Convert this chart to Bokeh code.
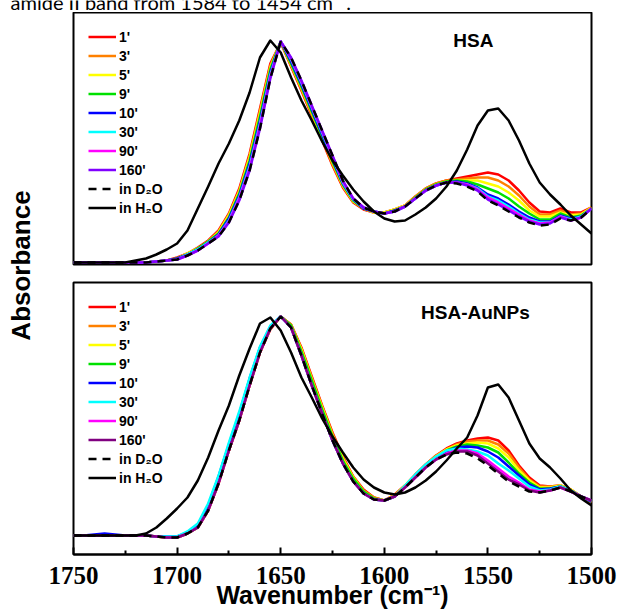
from math import pi
from bokeh.plotting import figure
from bokeh.models import Range1d, Legend, LegendItem, Label, FixedTicker
from bokeh.layouts import column, row
from bokeh.embed import file_html
from bokeh.resources import INLINE

# ---------------- data ----------------
wavenumber = [1750, 1745, 1740, 1735, 1730, 1725, 1720, 1715, 1710, 1705,
              1700, 1695, 1690, 1685, 1680, 1675, 1670, 1665, 1660, 1655,
              1650, 1645, 1640, 1635, 1630, 1625, 1620, 1615, 1610, 1605,
              1600, 1595, 1590, 1585, 1580, 1575, 1570, 1565, 1560, 1555,
              1550, 1545, 1540, 1535, 1530, 1525, 1520, 1515, 1510, 1505, 1500]

series_labels = ["1'", "3'", "5'", "9'", "10'", "30'", "90'", "160'", "in D\u2082O", "in H\u2082O"]

# HSA (upper panel), absorbance in arbitrary units
hsa_1 = [0, 0, 0, 0, 0, 0, 0, 0,
         1, 2, 5, 9, 15, 22, 32, 49, 74, 109, 154, 199, 220, 196, 172, 147, 122, 97, 75, 60, 53, 50, 50, 53,
         57, 66, 74, 79, 82, 84, 86, 88, 90, 88, 82, 72, 60, 51, 50, 54, 50, 50, 55]
hsa_3 = [0, 0, 0, 0, 0, 0, 0, 0,
         1, 2, 4, 9, 14, 21, 31, 48, 72, 107, 152, 197, 220, 197, 173, 148, 123, 98, 76, 61, 54, 50, 50, 53,
         57, 66, 74, 79, 82, 83, 84, 85, 85, 82, 76, 67, 56, 48, 48, 52, 48, 49, 55]
hsa_5 = [0, 0, 0, 0, 0, 0, 0, 0,
         1, 2, 4, 9, 14, 21, 30, 47, 71, 105, 149, 195, 221, 198, 175, 150, 125, 100, 77, 61, 54, 50, 50, 53,
         57, 65, 73, 78, 81, 82, 82, 82, 79, 76, 70, 62, 52, 46, 46, 50, 47, 48, 55]
hsa_9 = [0, 0, 0, 0, 0, 0, 0, 0,
         1, 2, 4, 8, 14, 21, 29, 45, 69, 102, 146, 193, 221, 199, 176, 151, 126, 101, 78, 62, 54, 51, 49, 52,
         56, 65, 73, 78, 81, 82, 81, 78, 74, 70, 64, 56, 49, 43, 43, 49, 45, 47, 54]
hsa_10 = [0, 0, 0, 0, 0, 0, 0, 0,
          1, 2, 4, 8, 13, 20, 28, 44, 67, 99, 142, 190, 221, 201, 178, 153, 128, 103, 79, 63, 54, 51, 49, 52,
          56, 64, 72, 77, 80, 81, 79, 75, 68, 64, 58, 51, 45, 41, 41, 47, 44, 46, 54]
hsa_30 = [0, 0, 0, 0, 0, 0, 0, 0,
          1, 2, 3, 8, 13, 20, 27, 42, 65, 96, 139, 188, 221, 203, 180, 155, 130, 105, 80, 63, 55, 51, 49, 51,
          56, 64, 72, 77, 80, 80, 78, 74, 66, 62, 56, 49, 43, 40, 40, 46, 43, 46, 54]
hsa_90 = [0, 0, 0, 0, 0, 0, 0, 0,
          1, 2, 3, 7, 12, 19, 27, 41, 64, 94, 137, 186, 221, 204, 181, 156, 131, 106, 81, 64, 55, 51, 49, 51,
          56, 64, 72, 77, 80, 80, 78, 73, 65, 60, 54, 48, 42, 39, 40, 46, 42, 45, 54]
hsa_160 = [0, 0, 0, 0, 0, 0, 0, 0,
           1, 2, 3, 7, 12, 19, 26, 40, 62, 92, 134, 184, 221, 205, 182, 157, 132, 107, 82, 64, 55, 51, 49, 51,
           56, 64, 72, 77, 80, 80, 77, 72, 63, 58, 52, 46, 41, 38, 39, 45, 42, 45, 54]
hsa_d2o = [0, 0, 0, 0, 0, 0, 0, 0,
           1, 2, 3, 7, 12, 19, 26, 40, 62, 92, 134, 184, 221, 205, 182, 157, 132, 107, 82, 64, 55, 51, 49, 51,
           56, 64, 72, 77, 80, 79, 76, 71, 62, 57, 51, 45, 40, 37, 38, 44, 42, 45, 54]
hsa_h2o = [0, 0, 0, 0, 0, 0,
           2, 4, 8, 13, 19, 32, 54, 76, 99, 119, 142, 170, 205, 222, 210, 185, 162, 142, 121, 102,
           87, 73, 61, 51, 44, 41, 42, 48, 55, 64, 76, 92, 113, 137, 152, 154, 142, 122, 99, 80,
           68, 58, 47, 38, 29]

# HSA-AuNPs (lower panel)
au_1 = [0, 0, 0, 0, 0, 0, 0, 0,
        -1, -2, -2, 2, 8, 25, 52, 85, 115, 150, 183, 206, 219, 211, 188, 159, 130, 103, 79, 59, 46, 38, 35, 41,
        50, 61, 71, 80, 87, 92, 95, 97, 98, 95, 85, 70, 58, 50, 49, 50, 46, 39, 33]
au_3 = [0, 0, 0, 0, 0, 0, 0, 0,
        -1, -2, -2, 2, 8, 25, 52, 85, 115, 150, 183, 207, 219, 211, 187, 158, 129, 102, 78, 59, 45, 38, 35, 40,
        50, 61, 71, 80, 86, 91, 94, 95, 95, 91, 82, 68, 56, 49, 49, 50, 46, 39, 33]
au_5 = [0, 0, 0, 0, 0, 0, 0, 0,
        -1, -2, -2, 2, 8, 25, 52, 85, 115, 150, 183, 207, 219, 210, 186, 156, 128, 100, 77, 58, 44, 37, 35, 40,
        50, 60, 70, 79, 86, 90, 92, 93, 92, 87, 78, 65, 55, 48, 48, 50, 46, 39, 34]
au_9 = [0, 0, 0, 0, 0, 0, 0, 0,
        -1, -2, -2, 2, 8, 26, 53, 86, 116, 151, 184, 207, 219, 210, 184, 155, 126, 99, 75, 57, 44, 37, 35, 39,
        49, 60, 70, 78, 85, 89, 91, 90, 88, 83, 73, 62, 53, 47, 47, 49, 45, 39, 34]
au_10 = [0, 0, 1, 2, 1, 0, 0, 0,
         -1, -1, -1, 3, 11, 30, 59, 91, 122, 157, 188, 209, 219, 208, 180, 150, 122, 95, 72, 54, 42, 36, 35, 39,
         49, 59, 69, 78, 84, 88, 89, 88, 84, 78, 69, 60, 51, 46, 47, 49, 45, 39, 34]
au_30 = [0, 0, 0, 0, 0, 0, 0, 0,
         -1, -1, -1, 4, 12, 32, 60, 93, 124, 158, 189, 210, 219, 208, 180, 150, 122, 95, 72, 54, 42, 36, 35, 39,
         50, 61, 71, 79, 85, 87, 86, 84, 80, 72, 65, 57, 49, 45, 46, 49, 45, 39, 35]
au_90 = [0, 0, 0, 0, 0, 0, 0, 0,
         -1, -2, -2, 2, 8, 25, 52, 85, 115, 150, 183, 207, 219, 208, 180, 150, 122, 95, 72, 54, 42, 36, 35, 39,
         48, 58, 68, 76, 82, 85, 85, 82, 75, 67, 59, 53, 46, 44, 45, 48, 44, 39, 35]
au_160 = [0, 0, 0, 0, 0, 0, 0, 0,
          -1, -2, -2, 2, 8, 25, 52, 85, 115, 150, 183, 207, 219, 208, 180, 150, 122, 95, 72, 54, 42, 36, 35, 39,
          48, 58, 68, 76, 81, 84, 84, 80, 72, 64, 56, 51, 45, 43, 45, 48, 44, 39, 35]
au_d2o = [0, 0, 0, 0, 0, 0, 0, 0,
          -1, -2, -2, 2, 8, 25, 52, 85, 115, 150, 183, 207, 219, 208, 180, 150, 122, 95, 72, 54, 42, 36, 35, 39,
          48, 58, 68, 76, 81, 83, 82, 77, 70, 62, 54, 49, 44, 43, 45, 48, 44, 39, 35]
au_h2o = [0, 0, 0, 0, 0, 0, 0,
          2, 8, 17, 27, 38, 55, 78, 105, 130, 160, 187, 212, 218, 205, 183, 158, 138, 117, 99, 83,
          68, 56, 48, 43, 41, 43, 48, 55, 64, 75, 87, 98, 120, 148, 151, 138, 115, 92, 77, 68,
          57, 45, 37, 30]

x_major_ticks = [1750, 1700, 1650, 1600, 1550, 1500]
x_minor_ticks = [1725, 1675, 1625, 1575, 1525]

top_colors = ["#FF0000", "#FF8000", "#FFFF00", "#00E000", "#0000FF", "#00FFFF", "#FF00FF", "#8000FF"]
bot_colors = ["#FF0000", "#FF8000", "#FFFF00", "#00E000", "#0000FF", "#00FFFF", "#FF00FF", "#800080"]

SANS = "Liberation Sans"
SERIF = "Liberation Serif"
LW = 2.5


def bare(p):
    p.outline_line_color = None
    p.xgrid.visible = False
    p.ygrid.visible = False
    p.background_fill_color = "white"
    p.border_fill_color = "white"


def make_panel(colored, d2o, h2o, colors, yr, height, b_top, b_bottom, with_axis, title, title_xy):
    p = figure(width=581, height=height, title=None,
               x_range=Range1d(1750, 1500), y_range=Range1d(*yr),
               output_backend="svg", toolbar_location=None,
               x_axis_location="below" if with_axis else None,
               y_axis_location=None,
               min_border_left=33, min_border_right=30,
               min_border_top=b_top, min_border_bottom=b_bottom)
    p.outline_line_color = "black"
    p.outline_line_width = 2
    p.background_fill_color = "white"
    p.border_fill_color = "white"
    p.xgrid.visible = False
    p.ygrid.visible = False

    renderers = []
    for vals, c in zip(colored, colors):
        r = p.line(wavenumber, vals, line_color=c, line_width=LW, line_join="round")
        renderers.append(r)
    r = p.line(wavenumber, d2o, line_color="black", line_width=LW, line_dash="8 6")
    renderers.append(r)
    r = p.line(wavenumber, h2o, line_color="black", line_width=LW, line_join="round")
    renderers.append(r)

    items = [LegendItem(label=lab, renderers=[rr]) for lab, rr in zip(series_labels, renderers)]
    leg = Legend(items=items, location="top_left", margin=15, padding=0, spacing=0,
                 glyph_width=28, glyph_height=19, label_height=19, label_standoff=3,
                 label_text_font=SANS, label_text_font_style="bold",
                 label_text_font_size="14px", label_text_color="black",
                 border_line_color=None, background_fill_alpha=0)
    p.add_layout(leg)

    p.add_layout(Label(x=title_xy[0], y=title_xy[1], text=title, text_align="center",
                       text_baseline="alphabetic", text_font=SANS, text_font_style="bold",
                       text_font_size="19px", text_color="black"))

    if with_axis:
        ax = p.xaxis[0]
        ax.ticker = FixedTicker(ticks=x_major_ticks, minor_ticks=x_minor_ticks)
        ax.axis_line_width = 2
        ax.axis_line_color = "black"
        ax.major_tick_in = 7
        ax.major_tick_out = 0
        ax.minor_tick_in = 4
        ax.minor_tick_out = 0
        ax.major_tick_line_width = 2
        ax.minor_tick_line_width = 2
        ax.major_tick_line_color = "black"
        ax.minor_tick_line_color = "black"
        ax.major_label_text_font = SERIF
        ax.major_label_text_font_style = "bold"
        ax.major_label_text_font_size = "25px"
        ax.major_label_text_color = "black"
        ax.major_label_standoff = 12
        ax.axis_label = "Wavenumber (cm\u207b\u00b9)"
        ax.axis_label_text_font = SANS
        ax.axis_label_text_font_style = "bold"
        ax.axis_label_text_font_size = "25px"
        ax.axis_label_text_color = "black"
        ax.axis_label_standoff = -6
    return p


top = make_panel([hsa_1, hsa_3, hsa_5, hsa_9, hsa_10, hsa_30, hsa_90, hsa_160],
                 hsa_d2o, hsa_h2o, top_colors, (-2, 250), 261, 0, 9, False,
                 "HSA", (1557, 222))
bottom = make_panel([au_1, au_3, au_5, au_9, au_10, au_30, au_90, au_160],
                    au_d2o, au_h2o, bot_colors, (-19, 253), 343, 9, 62, True,
                    "HSA-AuNPs", (1556, 223))

# y-axis title strip
ylab = figure(width=40, height=604, title=None, x_range=Range1d(0, 40), y_range=Range1d(0, 604),
              output_backend="svg", toolbar_location=None,
              x_axis_location=None, y_axis_location=None,
              min_border_left=0, min_border_right=0, min_border_top=0, min_border_bottom=0)
bare(ylab)
ylab.add_layout(Label(x=20, y=351, text="Absorbance", angle=pi / 2, text_align="center",
                      text_baseline="middle", text_font=SANS, text_font_style="bold",
                      text_font_size="26px", text_color="black"))

# cut-off caption strip at the very top
cap = figure(width=621, height=12, title=None, x_range=Range1d(0, 621), y_range=Range1d(0, 12),
             output_backend="svg", toolbar_location=None,
             x_axis_location=None, y_axis_location=None,
             min_border_left=0, min_border_right=0, min_border_top=0, min_border_bottom=0)
bare(cap)
cap.add_layout(Label(x=10, y=11, text="amide II band from 1584 to 1454 cm\u207b\u00b9.",
                     text_align="left", text_baseline="alphabetic", text_font="Lato",
                     text_font_size="20px", text_color="black"))

layout = column(cap, row(ylab, column(top, bottom)))

open("out.html", "w").write(file_html(layout, INLINE))
